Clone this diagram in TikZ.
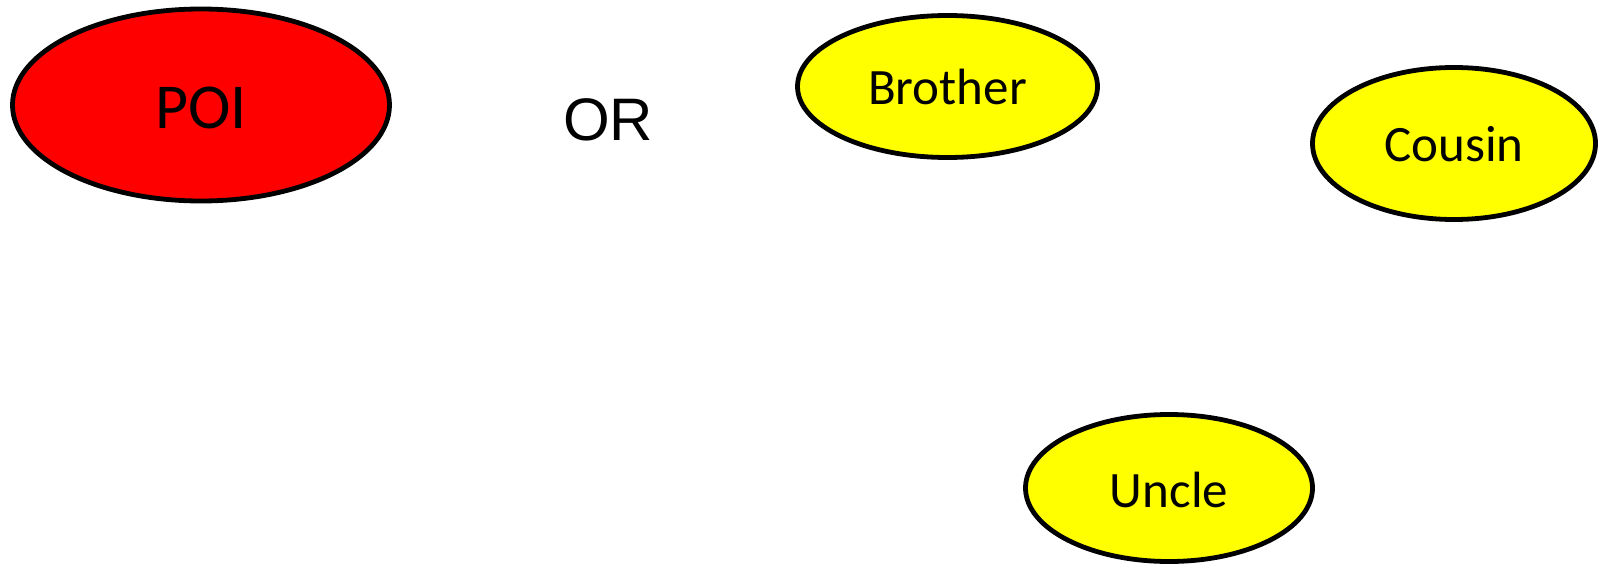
\documentclass[tikz,border=0pt]{standalone}
\usepackage{fontspec}
\setmainfont{Carlito}
\newfontfamily\orfont{Liberation Sans}
\usetikzlibrary{shapes.geometric}
\definecolor{poired}{RGB}{255,0,0}
\definecolor{relyellow}{RGB}{255,255,0}
\tikzset{
  oval/.style={ellipse, draw=black, line width=4.8pt, inner sep=0pt, text depth=0pt},
  person/.style={oval, fill=relyellow, font=\fontsize{51}{60}\selectfont, text height=36pt},
}
\begin{document}
\begin{tikzpicture}[x=1pt,y=-1pt]
  \useasboundingbox (0,0) rectangle (1606,567);
  % person of interest
  \node[oval, fill=poired, minimum width=377pt, minimum height=192pt,
        font=\fontsize{64}{74}\selectfont, text height=47pt] (poi) at (201,105) {POI};
  \node[font=\orfont\fontsize{60}{68}\selectfont] (or) at (608,119.5) {OR};
  % relatives
  \node[person, minimum width=300pt, minimum height=142pt] (brother) at (947.5,86.5) {Brother};
  \node[person, minimum width=283pt, minimum height=152pt] (cousin) at (1454,143.5) {Cousin};
  \node[person, minimum width=287pt, minimum height=147pt, text height=39pt] (uncle) at (1169,488) {Uncle};
\end{tikzpicture}
\end{document}
